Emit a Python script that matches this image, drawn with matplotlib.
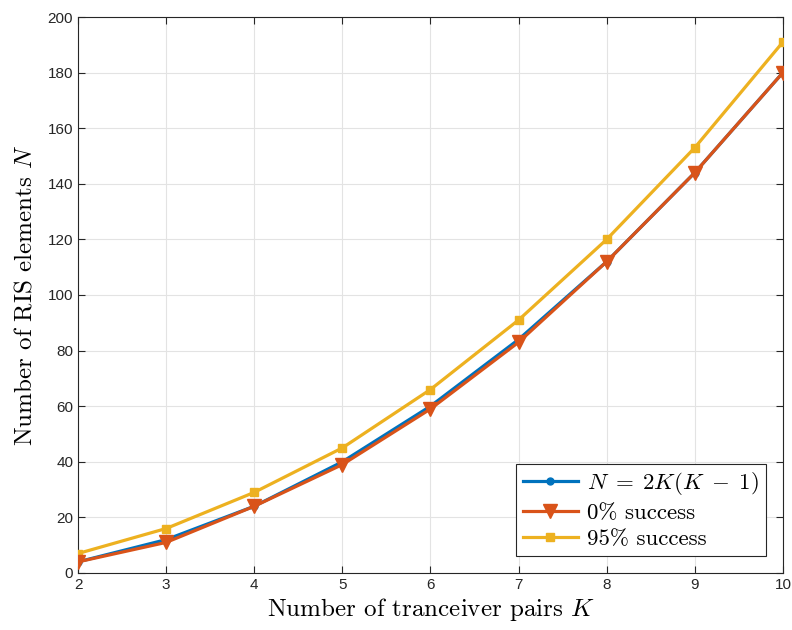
import numpy as np
import matplotlib
matplotlib.use("Agg")
from matplotlib import pyplot as plt

K = [2, 3, 4, 5, 6, 7, 8, 9, 10]
n_formula = [4, 12, 24, 40, 60, 84, 112, 144, 180]
n_zero = [4, 11, 24, 39, 59, 83, 112, 144, 180]
n_95 = [7, 16, 29, 45, 66, 91, 120, 153, 191]

plt.rcParams['mathtext.fontset'] = 'cm'
plt.rcParams['font.family'] = ['Liberation Sans', 'DejaVu Sans']

fig = plt.figure(figsize=(7.92, 6.3), dpi=100)
ax = fig.add_axes([0.0985, 0.0905, 0.89, 0.8825])

ax.plot(K, n_formula, color='#0072BD', lw=2.3, marker='o', ms=5,
        label=r'$N\;=\;2K(K\;-\;1)$', zorder=3)
ax.plot(K, n_zero, color='#D95319', lw=2.3, marker='v', ms=10,
        label='0% success', zorder=4)
ax.plot(K, n_95, color='#EDB120', lw=2.3, marker='s', ms=6,
        label='95% success', zorder=3)

ax.set_xlim(2, 10)
ax.set_ylim(0, 200)
ax.set_xticks(range(2, 11))
ax.set_yticks(range(0, 201, 20))
ax.grid(True, color='#e3e3e3', lw=0.8)
ax.set_axisbelow(True)
ax.tick_params(direction='in', top=True, right=True, labelsize=11,
               colors='#262626', length=5)
for s in ax.spines.values():
    s.set_color('#262626')
    s.set_linewidth(0.8)

ax.set_xlabel(r'Number of tranceiver pairs $K$', fontsize=18,
              family='cmr10', labelpad=3)
ax.set_ylabel(r'Number of RIS elements $N$', fontsize=18,
              family='cmr10', labelpad=8)

leg = ax.legend(loc='lower right', fancybox=False,
                edgecolor='#262626', framealpha=1, borderaxespad=0.75,
                handlelength=2.4, labelspacing=0.25, borderpad=0.3,
                handletextpad=0.4,
                prop={'family': 'cmr10', 'size': 16.5})
leg.get_frame().set_linewidth(0.8)

fig.savefig('out.png', dpi=100)
